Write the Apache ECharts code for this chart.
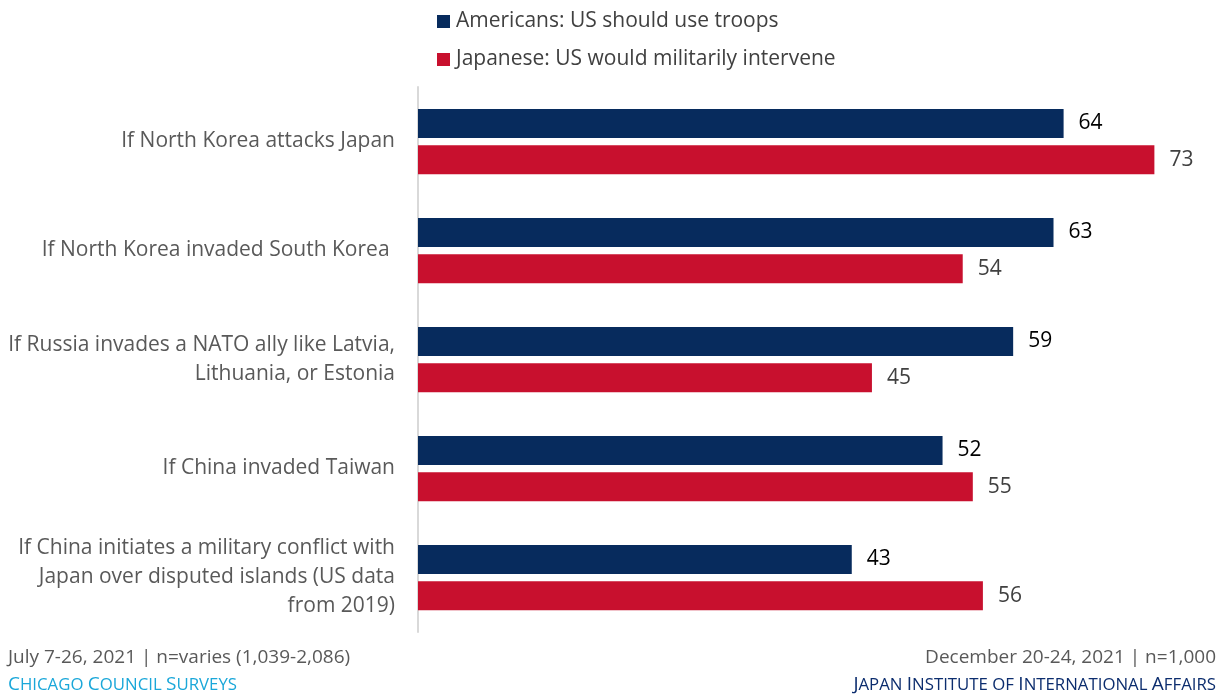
<!DOCTYPE html>
<html>
<head>
<meta charset="utf-8">
<script src="https://cdn.jsdelivr.net/npm/echarts@6/dist/echarts.min.js"></script>
<style>
  html, body { margin: 0; padding: 0; background: #fff; }
  #chart { width: 1225px; height: 694px; }
</style>
</head>
<body>
<div id="chart"></div>
<script>
// Scenarios asked in both surveys
const scenarios = [
  'If North Korea attacks Japan',
  'If North Korea invaded South Korea ',
  'If Russia invades a NATO ally like Latvia,\nLithuania, or Estonia',
  'If China invaded Taiwan',
  'If China initiates a military conflict with\nJapan over disputed islands (US data\nfrom 2019)'
];
const seriesNames = ['Americans: US should use troops', 'Japanese: US would militarily intervene'];
const americans = [64, 63, 59, 52, 43];
const japanese = [73, 54, 45, 55, 56];

const FONT = '"Open Sans", "Noto Sans", sans-serif';
const NAVY = '#072b5d';
const RED = '#c8102e';

const chart = echarts.init(document.getElementById('chart'), null, { renderer: 'canvas' });

// Small caps helper: capitalised words get a full-size initial, the rest is set in smaller capitals
function smallCaps(text) {
  return text.split(' ').map(w => {
    const first = w[0];
    if (first === first.toUpperCase()) {
      return '{b|' + first + '}' + (w.length > 1 ? '{s|' + w.slice(1).toUpperCase() + '}' : '');
    }
    return '{s|' + w.toUpperCase() + '}';
  }).join('{s| }');
}

chart.setOption({
  animation: false,
  textStyle: { fontFamily: FONT },
  legend: {
    orient: 'vertical',
    left: 432,
    top: 6,
    itemWidth: 13,
    itemHeight: 13,
    itemGap: 17,
    icon: 'rect',
    textStyle: { fontFamily: FONT, fontSize: 21, color: '#404040', padding: [0, 0, 0, 1] },
    data: seriesNames
  },
  grid: { left: 418, top: 87, width: 809, height: 545, containLabel: false },
  xAxis: {
    type: 'value',
    min: 0,
    max: 80,
    show: false
  },
  yAxis: {
    type: 'category',
    inverse: true,
    data: scenarios,
    axisLine: { show: true, lineStyle: { color: '#d9d9d9', width: 2 } },
    axisTick: { show: false },
    axisLabel: {
      margin: 23,
      fontFamily: FONT,
      fontSize: 21,
      lineHeight: 29,
      color: '#595959',
      align: 'right'
    }
  },
  series: [
    {
      name: seriesNames[0],
      type: 'bar',
      data: americans,
      barWidth: 29,
      barGap: '25%',
      itemStyle: { color: NAVY },
      label: { show: true, position: 'right', distance: 15, fontFamily: FONT, fontSize: 21, color: '#000' }
    },
    {
      name: seriesNames[1],
      type: 'bar',
      data: japanese,
      barWidth: 29,
      barGap: '25%',
      itemStyle: { color: RED },
      label: { show: true, position: 'right', distance: 15, fontFamily: FONT, fontSize: 21, color: '#404040' }
    }
  ],
  graphic: [
    {
      type: 'text', left: 8, top: 648,
      style: { text: 'July 7-26, 2021 | n=varies (1,039-2,086)', fontFamily: FONT, fontSize: 19, fill: '#595959' }
    },
    {
      type: 'text', left: 8, top: 675,
      style: {
        text: smallCaps('Chicago Council Surveys'),
        rich: {
          b: { fontFamily: FONT, fontSize: 19, fill: '#1aa7d9', verticalAlign: 'bottom' },
          s: { fontFamily: FONT, fontSize: 16.8, fill: '#1aa7d9', verticalAlign: 'bottom' }
        }
      }
    },
    {
      type: 'text', right: 9, top: 648,
      style: { text: 'December 20-24, 2021 | n=1,000', fontFamily: FONT, fontSize: 19, fill: '#595959' }
    },
    {
      type: 'text', right: 9, top: 675,
      style: {
        text: smallCaps('Japan Institute of International Affairs'),
        rich: {
          b: { fontFamily: FONT, fontSize: 19, fill: '#0c2d6e', verticalAlign: 'bottom' },
          s: { fontFamily: FONT, fontSize: 16.8, fill: '#0c2d6e', verticalAlign: 'bottom' }
        }
      }
    }
  ]
});
</script>
</body>
</html>
